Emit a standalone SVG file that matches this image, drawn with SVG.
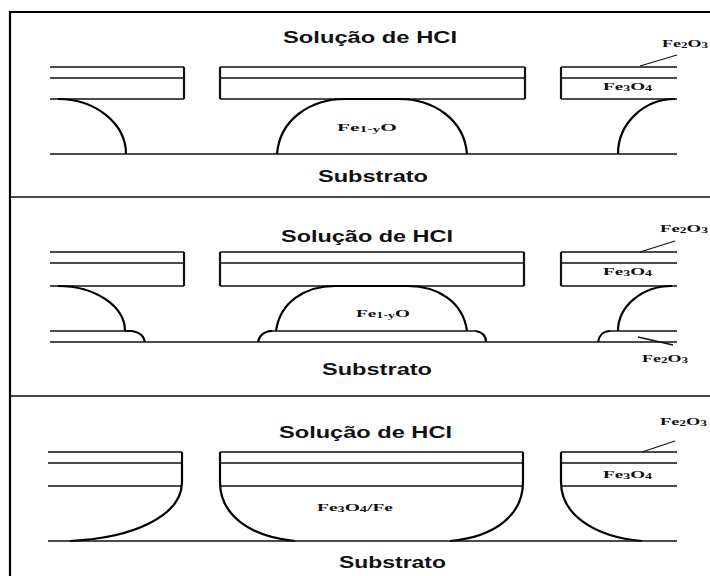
<svg xmlns="http://www.w3.org/2000/svg" width="710" height="576" viewBox="0 0 710 576">
  <style>
    .frame { stroke: #000; stroke-width: 2.2; fill: none; }
    .ln { stroke: #111; stroke-width: 1.6; fill: none; }
    .edge { stroke: #111; stroke-width: 2.2; fill: none; }
    .curve { stroke: #000; stroke-width: 2.2; fill: none; }
    .lead { stroke: #111; stroke-width: 1.3; fill: none; }
    .title { font-family: "Liberation Sans", Arial, sans-serif; font-weight: bold; font-size: 16px; fill: #111; }
    .lbl { font-family: "Liberation Serif", "Times New Roman", serif; font-weight: bold; font-size: 11px; fill: #111; }
    .sub { font-size: 8px; }
  </style>
  <rect width="710" height="576" fill="#fff"/>

  <!-- outer frame and section dividers -->
  <g id="frame">
    <path class="frame" d="M10,576 V12 H710"/>
    <path class="ln" d="M10,197 H710 M10,396 H710" stroke-width="1.8"/>
  </g>

  <!-- Stage 1 -->
  <g id="stage1">
    <text class="title" x="283" y="43" textLength="174" lengthAdjust="spacingAndGlyphs">Solução de HCI</text>
    <text class="title" x="318" y="182" textLength="110" lengthAdjust="spacingAndGlyphs">Substrato</text>
    <g id="s1-left">
      <path class="ln" d="M50,67 H184 M50,78 H184 M50,99 H184"/>
      <path class="edge" d="M184,67 V99"/>
      <path class="curve" d="M58,99 A68,55 0 0 1 126,154"/>
    </g>
    <g id="s1-mid">
      <path class="ln" d="M220,67 H525 M220,78 H525 M220,99 H525"/>
      <path class="edge" d="M220,67 V99 M525,67 V99"/>
      <path class="curve" d="M277,154 C280,118 312,99 345,99 L399,99 C432,99 464,118 467,154"/>
      <text class="lbl" x="337" y="131" textLength="60" lengthAdjust="spacingAndGlyphs">Fe<tspan class="sub" dy="1">1-y</tspan><tspan dy="-1">O</tspan></text>
    </g>
    <g id="s1-right">
      <path class="ln" d="M561,67 H677 M561,78 H677 M561,99 H677"/>
      <path class="edge" d="M561,67 V99"/>
      <path class="curve" d="M675,99 A57,55 0 0 0 618,154"/>
      <text class="lbl" x="603" y="90" textLength="49" lengthAdjust="spacingAndGlyphs">Fe<tspan class="sub" dy="1">3</tspan><tspan dy="-1">O</tspan><tspan class="sub" dy="1">4</tspan></text>
      <text class="lbl" x="662" y="47" textLength="46" lengthAdjust="spacingAndGlyphs">Fe<tspan class="sub" dy="1">2</tspan><tspan dy="-1">O</tspan><tspan class="sub" dy="1">3</tspan></text>
    </g>
    <path class="ln" d="M50,154 H677"/>
  </g>

  <!-- Stage 2 -->
  <g id="stage2">
    <text class="title" x="281" y="242" textLength="172" lengthAdjust="spacingAndGlyphs">Solução de HCI</text>
    <text class="title" x="322" y="375" textLength="110" lengthAdjust="spacingAndGlyphs">Substrato</text>
    <g id="s2-left">
      <path class="ln" d="M50,252 H184 M50,263 H184 M50,286 H184"/>
      <path class="edge" d="M184,252 V286"/>
      <path class="curve" d="M58,286 A67,45 0 0 1 125,331"/>
      <path class="ln" d="M50,331 H125"/>
      <path class="curve" d="M125,331 H132 C139,332 144,336 145,342" stroke-width="1.6"/>
    </g>
    <g id="s2-mid">
      <path class="ln" d="M220,252 H524 M220,263 H524 M220,286 H524"/>
      <path class="edge" d="M220,252 V286 M524,252 V286"/>
      <path class="curve" d="M276,331 C280,302 305,286 335,286 L408,286 C438,286 463,302 467,331"/>
      <path class="ln" d="M268,331 H476"/>
      <path class="curve" d="M258,342 C259,336 264,331 272,331 M476,331 C482,332 486,336 486,342" stroke-width="1.6"/>
      <text class="lbl" x="356" y="317" textLength="54" lengthAdjust="spacingAndGlyphs">Fe<tspan class="sub" dy="1">1-y</tspan><tspan dy="-1">O</tspan></text>
    </g>
    <g id="s2-right">
      <path class="ln" d="M561,252 H677 M561,263 H677 M561,286 H677"/>
      <path class="edge" d="M561,252 V286"/>
      <path class="curve" d="M672,286 A54,45 0 0 0 618,331"/>
      <path class="ln" d="M609,331 H677"/>
      <path class="curve" d="M598,342 C599,336 603,331 610,331" stroke-width="1.6"/>
      <text class="lbl" x="603" y="275" textLength="49" lengthAdjust="spacingAndGlyphs">Fe<tspan class="sub" dy="1">3</tspan><tspan dy="-1">O</tspan><tspan class="sub" dy="1">4</tspan></text>
      <text class="lbl" x="660" y="232" textLength="48" lengthAdjust="spacingAndGlyphs">Fe<tspan class="sub" dy="1">2</tspan><tspan dy="-1">O</tspan><tspan class="sub" dy="1">3</tspan></text>
      <text class="lbl" x="642" y="362" textLength="46" lengthAdjust="spacingAndGlyphs">Fe<tspan class="sub" dy="1">2</tspan><tspan dy="-1">O</tspan><tspan class="sub" dy="1">3</tspan></text>
    </g>
    <path class="ln" d="M50,342 H677"/>
  </g>

  <!-- Stage 3 -->
  <g id="stage3">
    <text class="title" x="279" y="438" textLength="173" lengthAdjust="spacingAndGlyphs">Solução de HCI</text>
    <text class="title" x="339" y="568" textLength="107" lengthAdjust="spacingAndGlyphs">Substrato</text>
    <g id="s3-left">
      <path class="ln" d="M48,452 H182 M48,463 H182 M48,486 H182"/>
      <path class="curve" d="M182,452 V482 C182,515 135,538 70,541"/>
    </g>
    <g id="s3-mid">
      <path class="ln" d="M220,452 H523 M220,463 H523 M220,486 H523"/>
      <path class="curve" d="M220,452 V482 C220,515 250,537 295,541 M523,452 V482 C523,515 495,537 450,541"/>
      <text class="lbl" x="317" y="511" textLength="76" lengthAdjust="spacingAndGlyphs">Fe<tspan class="sub" dy="1">3</tspan><tspan dy="-1">O</tspan><tspan class="sub" dy="1">4</tspan><tspan dy="-1">/Fe</tspan></text>
    </g>
    <g id="s3-right">
      <path class="ln" d="M561,452 H677 M561,463 H677 M561,486 H677"/>
      <path class="curve" d="M561,452 V482 C561,515 595,537 642,541"/>
      <text class="lbl" x="603" y="478" textLength="49" lengthAdjust="spacingAndGlyphs">Fe<tspan class="sub" dy="1">3</tspan><tspan dy="-1">O</tspan><tspan class="sub" dy="1">4</tspan></text>
      <text class="lbl" x="660" y="425" textLength="47" lengthAdjust="spacingAndGlyphs">Fe<tspan class="sub" dy="1">2</tspan><tspan dy="-1">O</tspan><tspan class="sub" dy="1">3</tspan></text>
    </g>
    <path class="ln" d="M48,541 H677"/>
  </g>

  <!-- leader lines from labels to layers -->
  <g id="connectors">
    <path class="lead" d="M677,55 L640,66"/>
    <path class="lead" d="M675,241 L640,252"/>
    <path class="lead" d="M638,337 L673,345"/>
    <path class="lead" d="M675,441 L642,452"/>
  </g>
</svg>
